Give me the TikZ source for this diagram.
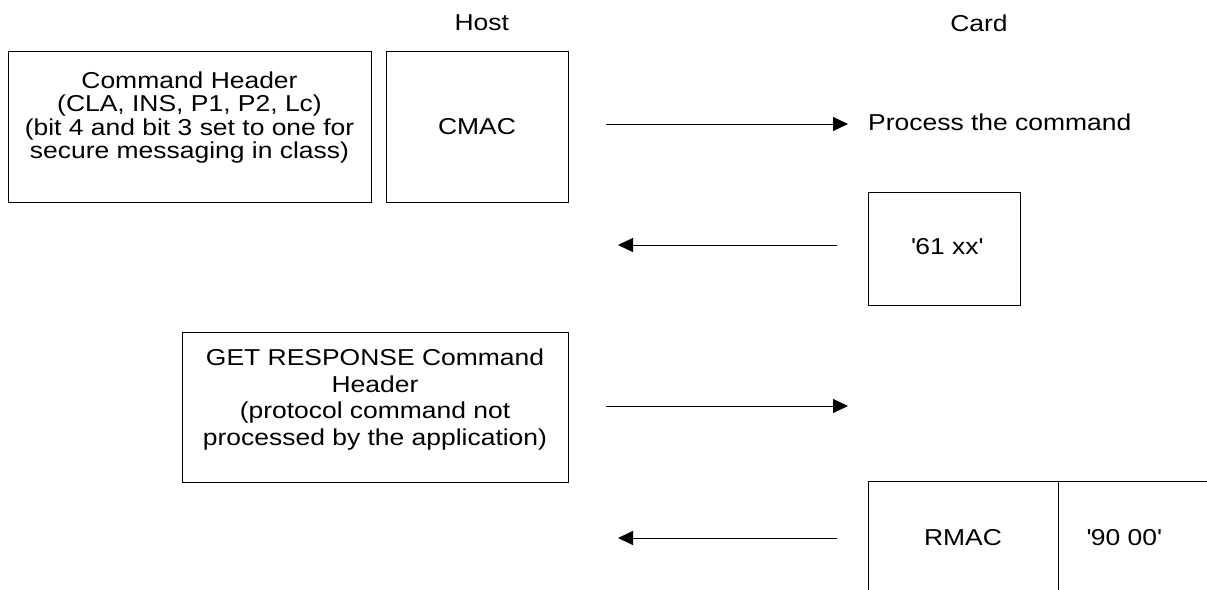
\documentclass[tikz,border=0pt]{standalone}
\usepackage{fontspec}
\setmainfont{Liberation Sans}[FakeStretch=1.15]
\usetikzlibrary{arrows.meta}
\begin{document}
\begin{tikzpicture}[x=1pt,y=-1pt,
  boxnode/.style={draw=black,line width=1pt,inner sep=0pt,anchor=north west},
  txt/.style={inner sep=0pt,font=\fontsize{23pt}{23.5pt}\selectfont},
  msg/.style={line width=1pt,-{Triangle[length=15pt,width=14pt]}}]
\useasboundingbox (0,0) rectangle (1207,589);
\clip (0,0) rectangle (1207,589);
\fill[white] (0,0) rectangle (1207,589);
% boxes
\node[boxnode,minimum width=363pt,minimum height=151pt] (hdr) at (8,51) {};
\node[boxnode,minimum width=182pt,minimum height=151pt] (cmacbox) at (386,51) {};
\node[boxnode,minimum width=386pt,minimum height=150pt] (getbox) at (182,332) {};
\node[boxnode,minimum width=152pt,minimum height=113pt] (box61) at (868,192) {};
\node[boxnode,minimum width=190pt,minimum height=130pt] (rmacbox) at (868,481) {};
\node[boxnode,minimum width=170pt,minimum height=130pt] (swbox) at (1058,481) {};
% texts
\node[txt,anchor=base] (host) at (481.7,30.7) {Host};
\node[txt,anchor=base] (card) at (979,31.5) {Card};
\node[txt,align=center] (hdrtext) at (189.5,117.6) {Command Header\\(CLA, INS, P1, P2, Lc)\\(bit 4 and bit 3 set to one for\\secure messaging in class)};
\node[txt,anchor=base] (cmac) at (477,134) {CMAC};
\node[txt,anchor=base west] (proc) at (868,130) {Process the command};
\node[txt,anchor=base] (sw61) at (947,254) {\textquotesingle 61 xx\textquotesingle};
\node[txt,align=center,font=\fontsize{23pt}{26.7pt}\selectfont] (gettext) at (375,399.5) {GET RESPONSE Command\\Header\\(protocol command not\\processed by the application)};
\node[txt,anchor=base] (rmac) at (963,545) {RMAC};
\node[txt,anchor=base] (sw9000) at (1124,545) {\textquotesingle 90 00\textquotesingle};
% arrow ends
\coordinate (a1s) at (606,124);
\coordinate (a1e) at (848,124);
\coordinate (a2s) at (837,245);
\coordinate (a2e) at (618,245);
\coordinate (a3s) at (606,406);
\coordinate (a3e) at (848,406);
\coordinate (a4s) at (837,538);
\coordinate (a4e) at (618,538);
\draw[msg] (a1s) -- (a1e);
\draw[msg] (a2s) -- (a2e);
\draw[msg] (a3s) -- (a3e);
\draw[msg] (a4s) -- (a4e);
\end{tikzpicture}
\end{document}
